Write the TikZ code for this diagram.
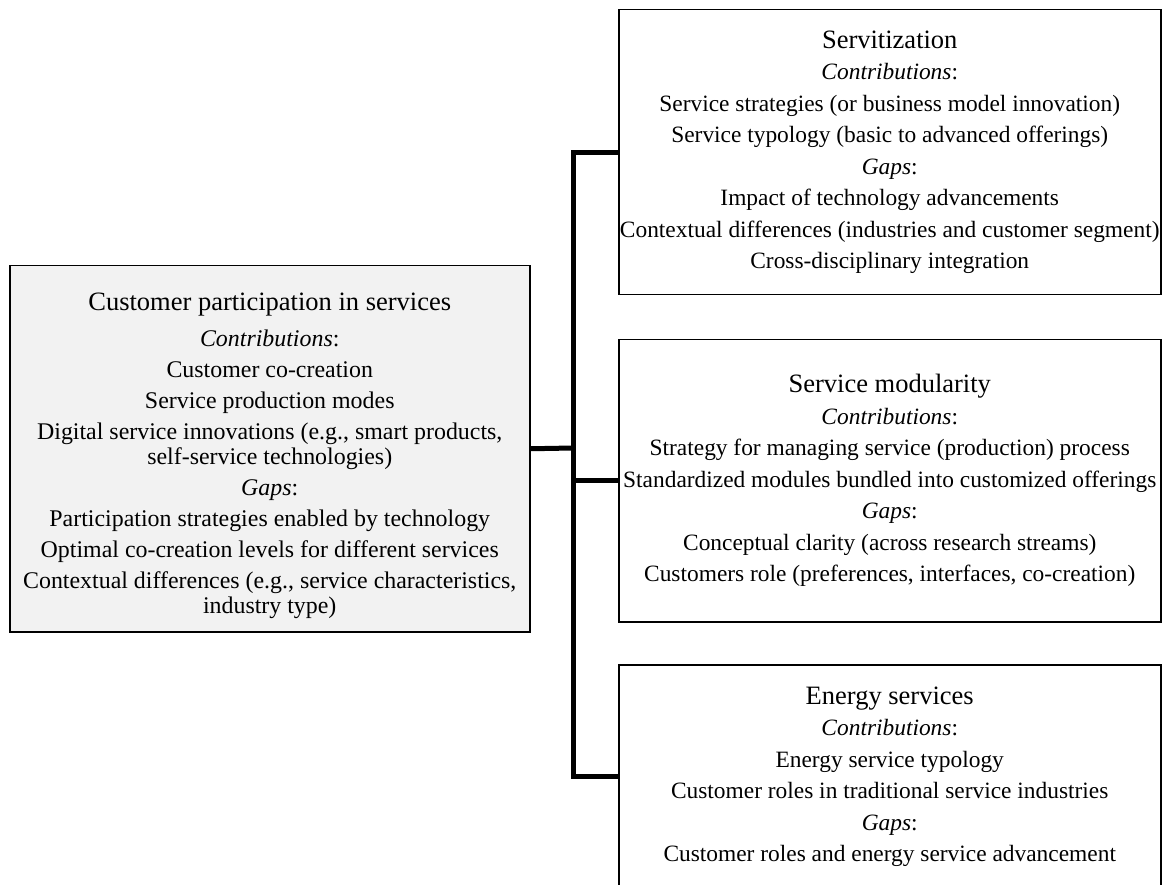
\documentclass[tikz,border=0pt]{standalone}
\usepackage{fontspec}
\setmainfont{Liberation Serif}
\definecolor{panelgray}{HTML}{F2F2F2}
\newcommand{\paneltitle}[1]{{\fontsize{26.5}{31}\selectfont #1}}
\begin{document}
\begin{tikzpicture}[x=1pt, y=-1pt, line join=miter,
    panel/.style={draw, line width=1.5pt, inner sep=0pt, align=center, anchor=north west,
      font=\fontsize{23.4}{31.5}\selectfont},
    link/.style={line width=5pt}]
  \useasboundingbox (0,0) rectangle (1165,885);
  \clip (0,0) rectangle (1165,885);
  % left panel
  \node[panel, fill=panelgray, minimum width=520pt, minimum height=366pt] (custbox) at (9,265) {};
  \node[align=center, inner sep=0pt, yshift=-7pt, font=\fontsize{23.9}{31}\selectfont]
    (custtext) at (custbox.center) {%
    \paneltitle{Customer participation in services}\\[5pt]
    \textit{Contributions}:\\
    Customer co-creation\\
    Service production modes\\
    Digital service innovations (e.g., smart products,\\[-6pt]
    self-service technologies)\\
    \textit{Gaps}:\\
    Participation strategies enabled by technology\\
    Optimal co-creation levels for different services\\
    Contextual differences (e.g., service characteristics,\\[-6pt]
    industry type)};
  % right panels
  \node[panel, minimum width=542pt, minimum height=285pt] (servbox) at (618,9) {%
    \paneltitle{Servitization}\\
    \textit{Contributions}:\\
    Service strategies (or business model innovation)\\
    Service typology (basic to advanced offerings)\\
    \textit{Gaps}:\\
    Impact of technology advancements\\
    Contextual differences (industries and customer segment)\\
    Cross-disciplinary integration};
  \node[panel, minimum width=542pt, minimum height=282pt] (modbox) at (618,339) {%
    \paneltitle{Service modularity}\\
    \textit{Contributions}:\\
    Strategy for managing service (production) process\\
    Standardized modules bundled into customized offerings\\
    \textit{Gaps}:\\
    Conceptual clarity (across research streams)\\
    Customers role (preferences, interfaces, co-creation)};
  \node[panel, minimum width=542pt, minimum height=224pt] (energybox) at (618,664) {%
    \paneltitle{Energy services}\\
    \textit{Contributions}:\\
    Energy service typology\\
    Customer roles in traditional service industries\\
    \textit{Gaps}:\\
    Customer roles and energy service advancement};
  % connectors
  \coordinate (trunk) at (573,448);
  \draw[link] (custbox.east) -- (trunk);
  \draw[link] (servbox.west) -| (trunk) |- (energybox.west);
  \draw[link] (trunk |- modbox.west) -- (modbox.west);
\end{tikzpicture}
\end{document}
